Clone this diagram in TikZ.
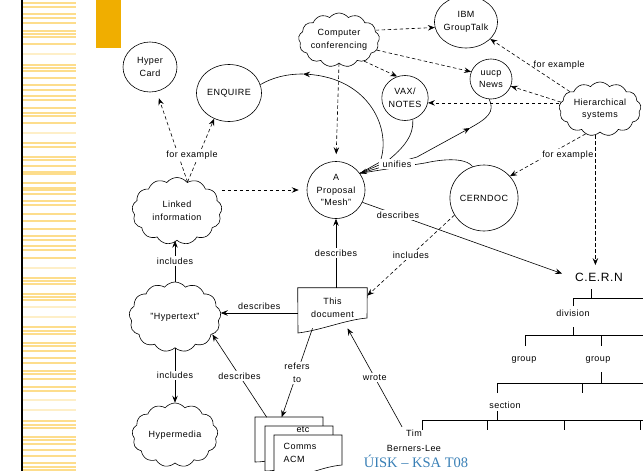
\documentclass[tikz,border=0pt]{standalone}
\usepackage{fontspec}
\setmainfont{Liberation Sans}[LetterSpace=5]
\newfontfamily\footfont{Liberation Serif}
\usetikzlibrary{arrows.meta,shapes.geometric,shapes.symbols}
\definecolor{stripe}{HTML}{FDDD8C}
\definecolor{stripelight}{HTML}{FEEFC8}
\definecolor{tabgold}{HTML}{F0AE00}
\definecolor{footblue}{HTML}{3A80B6}

\begin{document}
\begin{tikzpicture}[x=1pt, y=-1pt, line width=0.6pt,
    >={Stealth[length=7pt,width=5.5pt,inset=2.5pt]},
    every node/.style={font=\fontsize{9}{12.5}\selectfont, align=center},
    oval/.style={ellipse, draw, inner sep=0pt},
    puff/.style={cloud, draw, cloud puffs=13, cloud puff arc=105, cloud ignores aspect, inner sep=0pt},
    dlink/.style={->, dash pattern=on 3.5pt off 2.5pt},
    slink/.style={->},
    lbl/.style={fill=white, inner sep=1.5pt}]
    \useasboundingbox (0,0) rectangle (643,471);

    % slide decoration
    \foreach \y in {2,6,13,17,22,30,33,36,43,64,67,70,77,84,89,95,99,107,112,115,122,142,146,156,159,165,171,173,182,187,189,193,200,204,213,220,228,235,239,245,249,257,277,280,283,293,296,299,326,330,333,342,345,350,357,362,370,373,378,386,390,420,424,427,436,439,443,449,455,462,466,469}
        \fill[stripe] (23,\y) rectangle (76,\y+1.6);
    \foreach \y in {53,132,267,306,316,399,409}
        \fill[stripelight] (23,\y) rectangle (76,\y+1.6);
    \draw[line width=1.4pt] (22,0) -- (22,471);
    \fill[tabgold] (96,0) rectangle (121,48);

    % nodes
    \node[oval, minimum width=54, minimum height=50] (hyper) at (150,67) {Hyper\\Card};
    \node[oval, minimum width=65, minimum height=57] (enq) at (229,93) {ENQUIRE};
    \node[puff, minimum width=78, minimum height=54] (conf) at (339,40) {Computer\\conferencing};
    \node[oval, minimum width=62, minimum height=52] (ibm) at (466,22) {IBM\\GroupTalk};
    \node[oval, minimum width=42, minimum height=40] (uucp) at (491,79) {uucp\\News};
    \node[oval, minimum width=45, minimum height=45] (vax) at (405,98) {VAX/\\NOTES};
    \node[puff, minimum width=82, minimum height=54] (hier) at (600,109) {Hierarchical\\systems};
    \node[oval, minimum width=58, minimum height=57] (mesh) at (336,190) {A\\Proposal\\"Mesh"};
    \node[oval, minimum width=68, minimum height=66] (cdoc) at (484,198) {CERNDOC};
    \node[puff, minimum width=90, minimum height=67] (link) at (177,211) {Linked\\information};
    \node[puff, minimum width=92, minimum height=70] (hyptext) at (175,317) {"Hypertext"};
    \node[puff, minimum width=86, minimum height=64] (hmedia) at (175,435) {Hypermedia};

    % this document
    \node[minimum width=69, minimum height=40] (doc) at (332.5,308) {This\\document};
    \draw (doc.north west) -- (doc.north east) -- (367,318) .. controls (345,320) and (322,330) .. (298,333) -- cycle;

    % pile of papers
    \node[minimum width=68, minimum height=45] (stack) at (289,440) {};
    \foreach \dx/\dy in {0/0,10/9,19/18}
        \draw[fill=white, shift={(\dx,\dy)}] (255,417) -- (323,417) -- (323,447) .. controls (300,449) and (278,462) .. (255,462) -- cycle;
    \node (etc) at (303,430) {etc};
    \node[anchor=west, align=left] (comms) at (280,453) {Comms\\ACM};

    \node (tim) at (414,441) {Tim\\[2pt]Berners-Lee};
    \node[font=\footfont\fontsize{14.5}{16}\selectfont, text=footblue] (foot) at (416,461) {ÚISK – KSA T08};

    % organisation
    \node[font=\fontsize{12}{14}\selectfont] (cern) at (599,277) {C.E.R.N};
    \node (div) at (573,313) {division};
    \node (grp1) at (524,360) {group};
    \node (grp2) at (598,360) {group};
    \node (sect) at (505,405) {section};
    \draw (591,289) -- (591,298);
    \draw (573,306) |- (643,298);
    \draw (573,327) -- (573,335);
    \draw (525,346) |- (643,335);
    \draw (601,335) -- (601,346);
    \draw (601,372) -- (601,383);
    \draw (497,393) |- (643,383);
    \draw (582,383) -- (582,393);
    \draw (497,411) -- (497,420);
    \draw (422,430) |- (643,420);
    \foreach \x in {487,564,640}
        \draw (\x,420) -- (\x,430);

    % computer conferencing
    \draw[dlink] (conf.15) -- (ibm.190);
    \draw[dlink] (conf.-15) -- (uucp.160);
    \draw[dlink] (conf.-40) -- (vax.110);
    \draw[dlink, shorten >=7pt] (conf.south) -- (mesh.north);

    % hierarchical systems
    \draw[dlink] (hier.150) -- node[midway, anchor=west] {for example} (ibm.-35);
    \draw[dlink] (hier.170) -- (uucp.-20);
    \draw[dlink] (vax.-12 -| hier.west) -- (vax.-12);
    \draw[dlink] (hier.-120) -- node[lbl, midway, xshift=20pt] {for example} (cdoc.40);
    \draw[dlink, shorten >=4pt] (hier.-100) -- (hier.-100 |- cern.north);

    % linked information
    \draw[dlink, shorten >=7pt] (link.70) -- (hyper.-75);
    \draw[dlink] (link.70) -- (enq.-120);
    \node[lbl] (fex) at (192,155) {for example};
    \draw[dlink, shorten >=8pt] (mesh.west -| link.east) -- (mesh.west);

    % hypertext
    \draw[slink] (hyptext.north) -- node[lbl] {includes} (hyptext.north |- link.south);
    \draw[slink] (hyptext.south) -- node[lbl] {includes} (hmedia.north);
    \draw[slink] ([yshift=-5pt]doc.west) -- node[above] {describes} ([yshift=-5pt]doc.west -| hyptext.east);
    \draw[slink] (mesh.south |- doc.north) -- node[lbl] {describes} (mesh.south);
    \draw[dlink] (cdoc.-150) -- node[lbl] {includes} ([yshift=-8pt]doc.north east);
    \draw[slink, shorten >=10pt] (mesh.-25) -- node[lbl, pos=.17] {describes} (cern.west);
    \draw[slink] ([xshift=12pt]stack.north west) -- node[lbl] {describes} (hyptext.-25);
    \draw[slink] ([xshift=-20pt]doc.south) -- node[lbl] {refers\\to} ([xshift=27pt]stack.north west);
    \draw[slink] ([xshift=-12pt]tim.north) -- node[lbl] {wrote} ([xshift=15pt]doc.south);

    % unifies
    \coordinate (enqtip) at (303,74);
    \coordinate (uutip) at (470,128);
    \draw[->] (mesh.35) -- (380,162) .. controls (392,130) and (370,78) .. (enqtip);
    \draw (enqtip) .. controls (285,74) and (272,78) .. (enq.15);
    \draw (mesh.35) -- (386,162) .. controls (404,148) and (414,135) .. (vax.-70);
    \draw[<->] (mesh.35) -- (417,157) -- (uutip);
    \draw (uutip) .. controls (488,118) and (495,112) .. (uucp.-95);
    \draw (mesh.35) -- (425,163) .. controls (452,157) and (468,160) .. (cdoc.110);
    \node[lbl, inner xsep=4pt] (uni) at (397,164) {unifies};
\end{tikzpicture}
\end{document}
